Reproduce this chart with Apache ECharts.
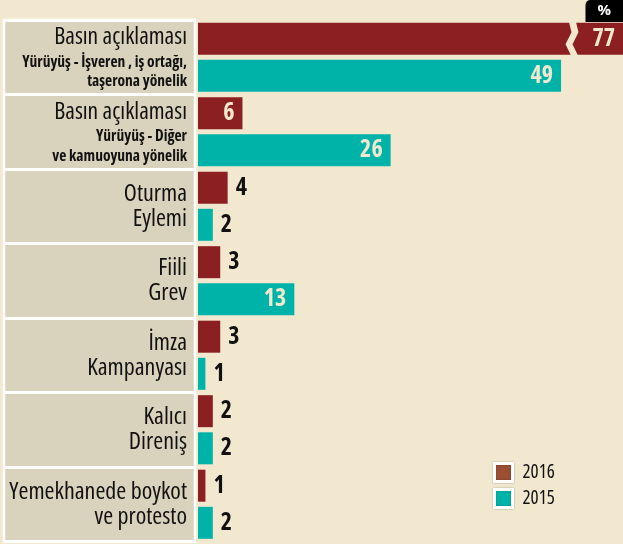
<!DOCTYPE html>
<html>
<head>
<meta charset="utf-8">
<script src="https://cdn.jsdelivr.net/npm/echarts@6/dist/echarts.min.js"></script>
<style>
html,body{margin:0;padding:0;background:#f2e8cf;}
#chart{width:623px;height:544px;}
</style>
</head>
<body>
<div id="chart"></div>
<script>
const categories = [
  'Basın açıklaması\nYürüyüş - İşveren , iş ortağı,\ntaşerona yönelik',
  'Basın açıklaması\nYürüyüş - Diğer\nve kamuoyuna yönelik',
  'Oturma\nEylemi',
  'Fiili\nGrev',
  'İmza\nKampanyası',
  'Kalıcı\nDireniş',
  'Yemekhanede boykot\nve protesto'
];
const seriesNames = ['2016', '2015'];
const values2016 = [77, 6, 4, 3, 3, 2, 1];
const values2015 = [49, 26, 2, 13, 1, 2, 2];
const unitLabel = '%';

const BG = '#f2e8cf';
const BOX = '#d9d2bc';
const RED = '#8b1f22';
const TEAL = '#00b3a9';
const LEGEND_RED = '#9a4f33';
const FONT = '"Open Sans", sans-serif';
const W_REG = 'normal condensed';
const W_BOLD = 'bold condensed';

function labelled(values) {
  return values.map(v => {
    const inside = v >= 5;
    return {
      value: v,
      label: {
        position: inside ? 'insideRight' : 'right',
        color: inside ? BG : '#111',
        distance: 8
      }
    };
  });
}

function catFormatter(val) {
  const lines = val.split('\n');
  if (lines.length >= 3) {
    return lines.map((l, i) => '{' + (i === 0 ? 'a' : 'b') + '|' + l + '}').join('\n');
  }
  return lines.map(l => '{c|' + l + '}').join('\n');
}

const valueLabel = {show: true, fontSize: 24, fontWeight: W_BOLD, fontFamily: FONT};

const chart = echarts.init(document.getElementById('chart'), null, {renderer: 'canvas'});
chart.setOption({
  backgroundColor: BG,
  animation: false,
  title: {
    text: unitLabel,
    right: 0,
    top: 0,
    backgroundColor: '#000',
    borderRadius: [5, 0, 0, 0],
    padding: [3, 12, 3, 12],
    textStyle: {color: '#fff', fontSize: 15, fontWeight: 'bold', lineHeight: 16, fontFamily: FONT}
  },
  legend: {
    orient: 'vertical',
    left: 493,
    top: 462,
    padding: 0,
    itemWidth: 18,
    itemHeight: 18,
    itemGap: 5,
    icon: 'rect',
    data: [
      {name: seriesNames[0], itemStyle: {color: LEGEND_RED, borderColor: '#fff', borderWidth: 3, shadowColor: 'rgba(0,0,0,0.3)', shadowBlur: 2}},
      {name: seriesNames[1], itemStyle: {color: TEAL, borderColor: '#fff', borderWidth: 3, shadowColor: 'rgba(0,0,0,0.3)', shadowBlur: 2}}
    ],
    textStyle: {fontSize: 19, color: '#111', fontFamily: FONT, fontWeight: W_REG, padding: [0, 0, 0, 5]}
  },
  grid: [
    {left: 198, right: 0, top: 20, bottom: 2.5, containLabel: false, outerBoundsMode: 'none'},
    {left: 4, width: 191, top: 20, bottom: 2.5, containLabel: false, outerBoundsMode: 'none',
     show: true, backgroundColor: BOX, borderColor: '#fff', borderWidth: 2.5}
  ],
  xAxis: [
    {
      type: 'value', gridIndex: 0, min: 0, max: 77,
      axisLine: {show: false}, axisTick: {show: false}, axisLabel: {show: false}, splitLine: {show: false},
      breaks: [{start: 50, end: 70.5, gap: '1.5%'}],
      breakArea: {
        show: true,
        itemStyle: {color: BG, borderColor: BG, borderWidth: 0, opacity: 1},
        zigzagAmplitude: 3,
        zigzagMinSpan: 8,
        zigzagMaxSpan: 14,
        expandOnClick: false
      }
    },
    {type: 'value', gridIndex: 1, show: false}
  ],
  yAxis: [
    {
      type: 'category', gridIndex: 0, data: categories, inverse: true,
      axisLine: {show: false}, axisTick: {show: false}, splitLine: {show: false},
      axisLabel: {
        margin: 11,
        align: 'right',
        formatter: catFormatter,
        rich: {
          a: {fontFamily: FONT, fontWeight: W_REG, fontSize: 23.5, color: '#111', lineHeight: 29.5, align: 'right'},
          b: {fontFamily: FONT, fontWeight: W_BOLD, fontSize: 15.5, color: '#111', lineHeight: 19.5, align: 'right'},
          c: {fontFamily: FONT, fontWeight: W_REG, fontSize: 24, color: '#111', lineHeight: 25, align: 'right'}
        }
      }
    },
    {
      type: 'category', gridIndex: 1, data: categories, inverse: true,
      axisLine: {show: false}, axisTick: {show: false}, axisLabel: {show: false},
      splitLine: {show: true, interval: 0, lineStyle: {color: '#fff', width: 3}}
    }
  ],
  series: [
    {
      name: seriesNames[0], type: 'bar', xAxisIndex: 0, yAxisIndex: 0,
      data: labelled(values2016),
      barWidth: 32, barGap: '16%',
      itemStyle: {color: RED},
      label: valueLabel
    },
    {
      name: seriesNames[1], type: 'bar', xAxisIndex: 0, yAxisIndex: 0,
      data: labelled(values2015),
      barWidth: 32, barGap: '16%',
      itemStyle: {color: TEAL},
      label: valueLabel
    }
  ]
});
</script>
</body>
</html>
